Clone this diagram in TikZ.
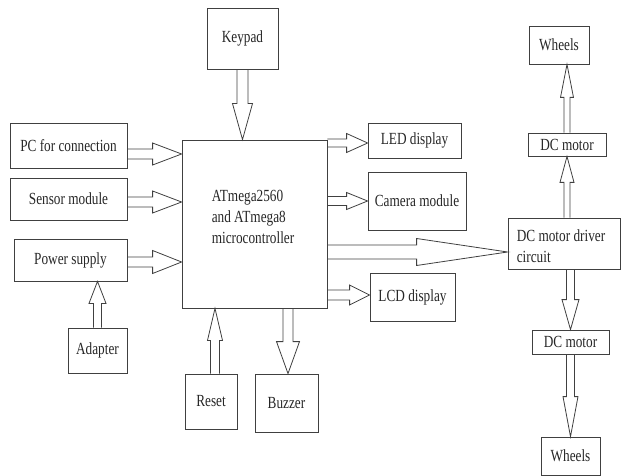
\documentclass[tikz,border=0pt]{standalone}
\usepackage{fontspec}
\setmainfont[FakeStretch=0.78]{Liberation Serif}
\usetikzlibrary{calc}

\newcommand{\blk}[5]{%
  \path (#1) coordinate (ba) (#2) coordinate (bb);
  \path ($(bb)!#5pt!(ba)$) coordinate (bh);
  \draw[line join=miter] ($(ba)!#3pt!90:(bb)$) -- ($(bh)!#3pt!90:(bb)$)
    -- ($(bh)!#4pt!90:(bb)$) -- (bb) -- ($(bh)!#4pt!-90:(bb)$)
    -- ($(bh)!#3pt!-90:(bb)$) -- ($(ba)!#3pt!-90:(bb)$);
}

\begin{document}
\begin{tikzpicture}[x=1pt, y=-1pt, line width=0.8pt, draw=black!75,
    box/.style={draw, inner sep=0pt, text=black!85, font=\fontsize{17}{21}\selectfont}]
        \useasboundingbox (0,0) rectangle (622,476);

        \node[box, minimum width=71, minimum height=61] (kp) at (242.5,38.5) {Keypad};
        \node[box, minimum width=117, minimum height=45] (pc) at (68.5,145.5) {PC for connection};
        \node[box, minimum width=117, minimum height=42] (sens) at (68.5,199) {Sensor module};
        \node[box, minimum width=113, minimum height=42] (pow) at (70.5,260) {Power supply};
        \node[box, minimum width=59, minimum height=45] (adp) at (97.5,350.5) {Adapter};

        \node[box, minimum width=145, minimum height=168] (mcu) at (254.5,224) {};
        \node[text=black!85, font=\fontsize{17}{21}\selectfont, align=left] (mcut) at (253,217) {ATmega2560\\and ATmega8\\microcontroller};

        \node[box, minimum width=52, minimum height=55] (reset) at (211,401.5) {Reset};
        \node[box, minimum width=63, minimum height=58] (buzz) at (286.5,403) {Buzzer};

        \node[box, minimum width=93, minimum height=35] (led) at (414.5,140.5) {LED display};
        \node[box, minimum width=98, minimum height=58] (cam) at (417,201) {Camera module};
        \node[box, minimum width=85, minimum height=48] (lcd) at (412.5,297) {LCD display};

        \node[box, minimum width=112, minimum height=51] (drv) at (564,243.5) {};
        \node[text=black!85, font=\fontsize{17}{21}\selectfont, align=left] (drvt) at (561,246) {DC motor driver\\circuit};
        \node[box, minimum width=78, minimum height=23] (dcma) at (567,144.5) {DC motor};
        \node[box, minimum width=60, minimum height=38] (wha) at (559,45) {Wheels};
        \node[box, minimum width=77, minimum height=24] (dcmb) at (570.5,342) {DC motor};
        \node[box, minimum width=59, minimum height=38] (whb) at (570.5,456) {Wheels};

        \coordinate (pcr) at ($(pc.east)+(0,8.5)$);
        \coordinate (sensr) at ($(sens.east)+(0,3)$);
        \coordinate (powr) at ($(pow.east)+(0,2)$);
        \coordinate (rs) at ($(reset.north)+(4,0)$);
        \coordinate (bz) at ($(buzz.north)+(1.5,0)$);
        \coordinate (ledl) at ($(led.west)+(0,2.5)$);
        \coordinate (lcdl) at ($(lcd.west)+(0,-2)$);
        \coordinate (dv) at ($(drv.west)+(0,8.5)$);

        \blk{kp.south}{kp.south |- mcu.north}{5.5}{10}{36}
        \blk{pcr}{pcr -| mcu.west}{5}{11}{29}
        \blk{sensr}{sensr -| mcu.west}{5}{11}{29}
        \blk{powr}{powr -| mcu.west}{5}{11.5}{29}
        \blk{adp.north}{adp.north |- pow.south}{4}{8.5}{22}
        \blk{rs}{rs |- mcu.south}{4.5}{7.5}{32}
        \blk{bz |- mcu.south}{bz}{5}{11.5}{32}

        \blk{mcu.east |- ledl}{ledl}{4}{9.5}{21}
        \blk{mcu.east |- cam.west}{cam.west}{4.5}{8.5}{21}
        \blk{mcu.east |- dv}{dv}{7}{13.5}{91}
        \blk{mcu.east |- lcdl}{lcdl}{5}{10}{20}

        \blk{dcma.south |- drv.north}{dcma.south}{3}{7}{26}
        \blk{dcma.north}{wha.south -| dcma.north}{3}{6.5}{33}
        \blk{dcmb.north |- drv.south}{dcmb.north}{4}{8.5}{30}
        \blk{dcmb.south}{whb.north}{4}{7.5}{40}
    \end{tikzpicture}
\end{document}
